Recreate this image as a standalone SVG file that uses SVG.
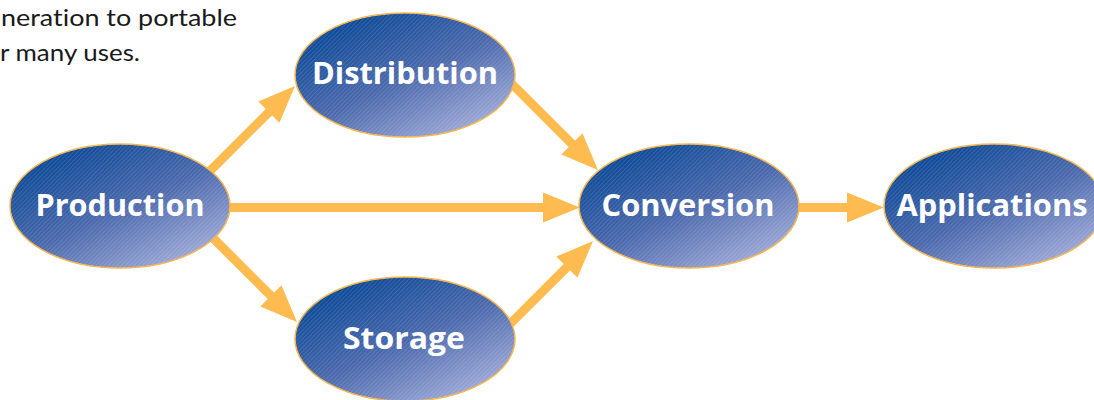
<svg xmlns="http://www.w3.org/2000/svg" width="1094" height="400" viewBox="0 0 1094 400">
  <style>
    .node-shape { fill: url(#blueGrad); stroke: #F7B54A; stroke-width: 1.5; }
    .node-hatch { fill: url(#hatch); stroke: none; }
    .node-label { font-family: "Open Sans", "Liberation Sans", sans-serif; font-weight: bold; font-size: 31px; fill: #FFFFFF; text-anchor: middle; font-variant-ligatures: none; }
    .caption { font-family: "Lato", "Liberation Sans", sans-serif; font-size: 23px; fill: #1A1A1A; font-variant-ligatures: none; }
    .conn { stroke: #FEBB50; stroke-width: 9; fill: none; stroke-linecap: butt; marker-end: url(#head); }
  </style>
  <defs>
    <linearGradient id="blueGrad" x1="0.15" y1="0.1" x2="0.85" y2="0.95">
      <stop offset="0" stop-color="#0A4896"/>
      <stop offset="0.5" stop-color="#4A68AC"/>
      <stop offset="1" stop-color="#A4AEDA"/>
    </linearGradient>
    <pattern id="hatch" width="3" height="3" patternUnits="userSpaceOnUse" patternTransform="rotate(-45)">
      <rect x="0" y="0" width="3" height="1" fill="#FFFFFF" fill-opacity="0.13"/>
    </pattern>
    <marker id="head" viewBox="0 0 37 30" markerWidth="37" markerHeight="30" refX="7" refY="15" orient="auto" markerUnits="userSpaceOnUse">
      <path d="M0,0 L37,15 L0,30 z" fill="#FEBB50"/>
    </marker>
  </defs>

  <rect x="0" y="0" width="1094" height="400" fill="#FFFFFF"/>

  <g id="caption">
    <text class="caption" x="1" y="26" textLength="236" lengthAdjust="spacingAndGlyphs">neration to portable</text>
    <text class="caption" x="0" y="61" textLength="140" lengthAdjust="spacingAndGlyphs">r many uses.</text>
  </g>

  <g id="connectors">
    <path class="conn" d="M190,191 L273.8,107.2"/>
    <path class="conn" d="M493,65 L576.8,148.8"/>
    <path class="conn" d="M192,217 L275.8,300.8"/>
    <path class="conn" d="M488,346 L571.8,262.2"/>
    <path class="conn" d="M200,207.5 L550,207.5"/>
    <path class="conn" d="M780,207.5 L854,207.5"/>
  </g>

  <g id="production">
    <ellipse class="node-shape" cx="120" cy="206" rx="110" ry="62"/>
    <ellipse class="node-hatch" cx="120" cy="206" rx="110" ry="62"/>
    <text class="node-label" x="120" y="216" textLength="169" lengthAdjust="spacingAndGlyphs">Production</text>
  </g>
  <g id="distribution">
    <ellipse class="node-shape" cx="405" cy="75" rx="110" ry="62"/>
    <ellipse class="node-hatch" cx="405" cy="75" rx="110" ry="62"/>
    <text class="node-label" x="405" y="84" textLength="186" lengthAdjust="spacingAndGlyphs">Distribution</text>
  </g>
  <g id="storage">
    <ellipse class="node-shape" cx="405" cy="339" rx="110" ry="62"/>
    <ellipse class="node-hatch" cx="405" cy="339" rx="110" ry="62"/>
    <text class="node-label" x="404" y="349" textLength="122" lengthAdjust="spacingAndGlyphs">Storage</text>
  </g>
  <g id="conversion">
    <ellipse class="node-shape" cx="689" cy="206" rx="110" ry="62"/>
    <ellipse class="node-hatch" cx="689" cy="206" rx="110" ry="62"/>
    <text class="node-label" x="688" y="216" textLength="173" lengthAdjust="spacingAndGlyphs">Conversion</text>
  </g>
  <g id="applications">
    <ellipse class="node-shape" cx="994" cy="206" rx="110" ry="62"/>
    <ellipse class="node-hatch" cx="994" cy="206" rx="110" ry="62"/>
    <text class="node-label" x="992" y="216" textLength="191" lengthAdjust="spacingAndGlyphs">Applications</text>
  </g>
</svg>
